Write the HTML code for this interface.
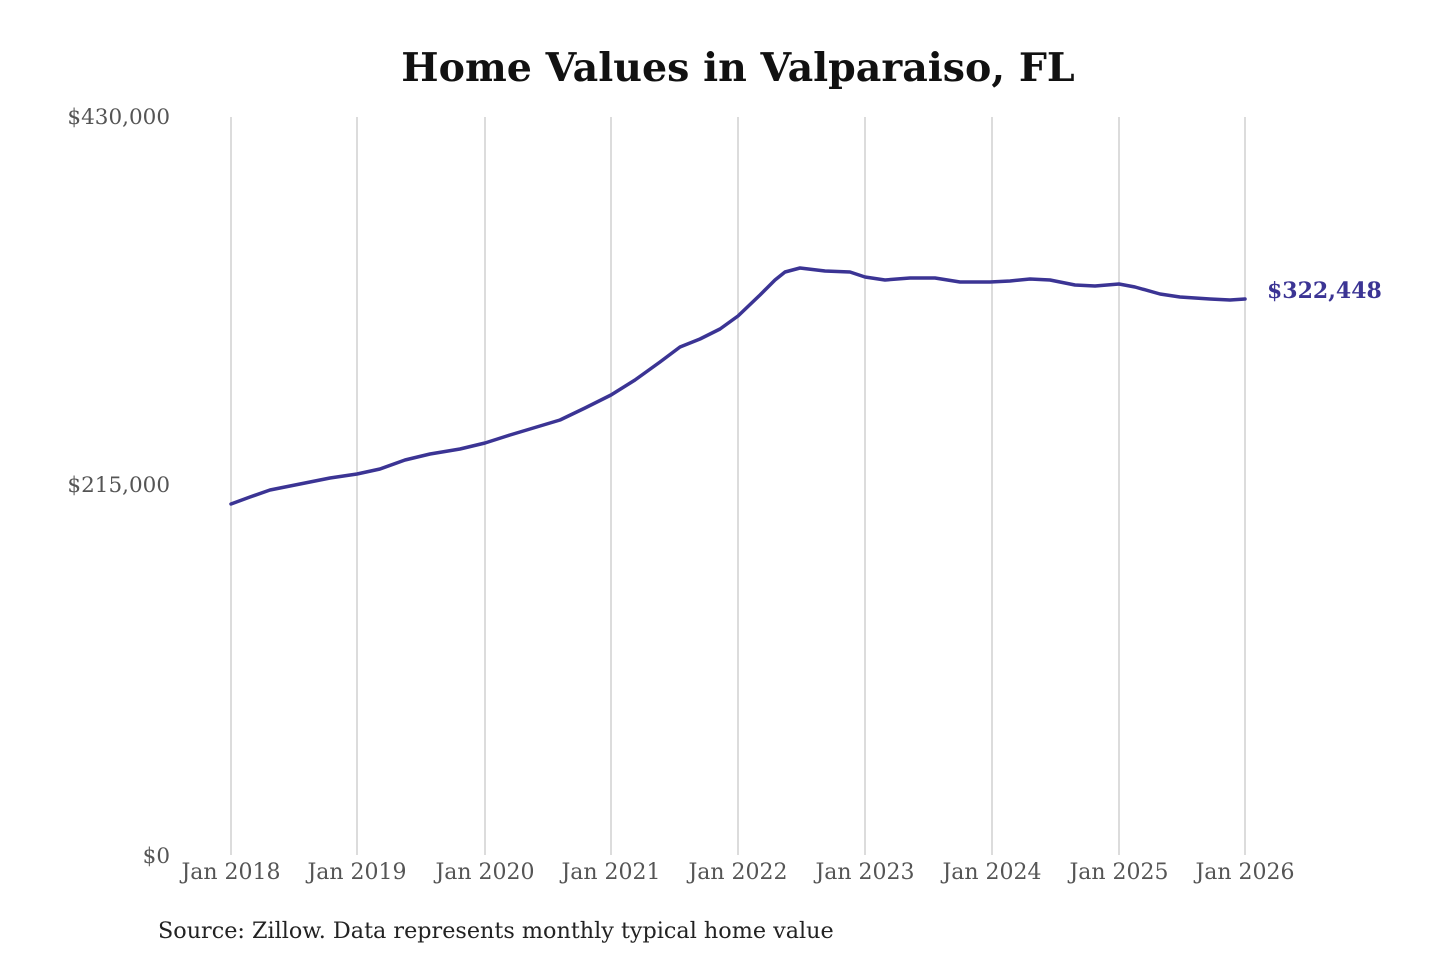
<!DOCTYPE html>
<html><head><style>
html,body{margin:0;padding:0;background:#fff;}
svg{display:block;}
</style></head><body>
<svg width="1440" height="960" xmlns="http://www.w3.org/2000/svg" font-family="'DejaVu Serif','Liberation Serif',serif">
<text x="738" y="81" text-anchor="middle" font-size="39.5" font-weight="bold" fill="#111">Home Values in Valparaiso, FL</text>
<g stroke="#c4c4c4" stroke-width="1.2">
<line x1="231" y1="117" x2="231" y2="855"/>
<line x1="357" y1="117" x2="357" y2="855"/>
<line x1="485" y1="117" x2="485" y2="855"/>
<line x1="611" y1="117" x2="611" y2="855"/>
<line x1="738" y1="117" x2="738" y2="855"/>
<line x1="865" y1="117" x2="865" y2="855"/>
<line x1="992" y1="117" x2="992" y2="855"/>
<line x1="1119" y1="117" x2="1119" y2="855"/>
<line x1="1245" y1="117" x2="1245" y2="855"/>
</g>
<g font-size="21.5" fill="#555" text-anchor="end">
<text x="170" y="124">$430,000</text>
<text x="170" y="492">$215,000</text>
<text x="170" y="863">$0</text>
</g>
<g font-size="22" fill="#555" text-anchor="middle">
<text x="231" y="879">Jan 2018</text>
<text x="357" y="879">Jan 2019</text>
<text x="485" y="879">Jan 2020</text>
<text x="611" y="879">Jan 2021</text>
<text x="738" y="879">Jan 2022</text>
<text x="865" y="879">Jan 2023</text>
<text x="992" y="879">Jan 2024</text>
<text x="1119" y="879">Jan 2025</text>
<text x="1245" y="879">Jan 2026</text>
</g>
<polyline fill="none" stroke="#3b3494" stroke-width="3.5" stroke-linejoin="round" stroke-linecap="round"
points="231,504 250,497 270,490 300,484 330,478 357,474 380,469 405,460 430,454 460,449 485,443 510,435 540,426 560,420 585,408 611,395 635,380 660,362 680,347 700,339 720,329 738,316 760,295 775,280 785,272 800,268 825,271 850,272 865,277 885,280 910,278 935,278 960,282 990,282 1010,281 1030,279 1050,280 1075,285 1095,286 1119,284 1135,287 1160,294 1180,297 1210,299 1230,300 1245,299"/>
<text x="1267" y="298" font-size="22" font-weight="bold" fill="#3b3494">$322,448</text>
<text x="158" y="938" font-size="22.3" fill="#222">Source: Zillow. Data represents monthly typical home value</text>
</svg>
</body></html>
